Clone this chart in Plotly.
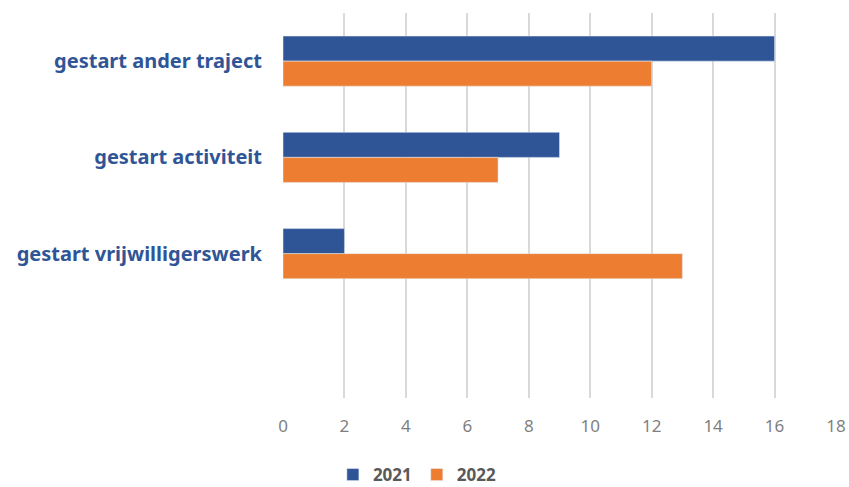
import plotly.graph_objects as go

categories = ["gestart ander traject", "gestart activiteit", "gestart vrijwilligerswerk", " "]
values_2021 = [16, 9, 2, None]
values_2022 = [12, 7, 13, None]
series_names = ["2021", "2022"]
x_ticks = [0, 2, 4, 6, 8, 10, 12, 14, 16, 18]

fig = go.Figure()
fig.add_trace(go.Bar(y=categories, x=values_2021, name=series_names[0], orientation="h",
                     marker=dict(color="#2F5597")))
fig.add_trace(go.Bar(y=categories, x=values_2022, name=series_names[1], orientation="h",
                     marker=dict(color="#ED7D31")))

fig.update_layout(
    width=849, height=487,
    margin=dict(l=283, r=13, t=13, b=89, autoexpand=False),
    paper_bgcolor="white", plot_bgcolor="white",
    barmode="group", bargap=0.48, bargroupgap=0,
    showlegend=True,
    legend=dict(orientation="h", x=0.243, xanchor="center",
                y=-0.2, yanchor="middle",
                font=dict(family="Noto Sans", size=17, color="#595959", weight="bold"),
                traceorder="normal"),
    xaxis=dict(range=[0, 18], tickvals=x_ticks, showgrid=True, gridcolor="#d9d9d9", gridwidth=1.5,
               zeroline=False, showline=False, ticks="", ticklabelstandoff=16, automargin=False,
               tickfont=dict(family="Noto Sans", size=17, color="#7f7f7f")),
    yaxis=dict(type="category", categoryorder="array", categoryarray=categories,
               range=[3.5, -0.5], showgrid=False, zeroline=False, showline=False, ticks="",
               ticklabelstandoff=20, automargin=False,
               tickfont=dict(family="Noto Sans", size=20, color="#2F5597", weight="bold")),
)

fig.write_html("out.html", config={"displayModeBar": False},
               post_script="document.body.style.margin='0';")
